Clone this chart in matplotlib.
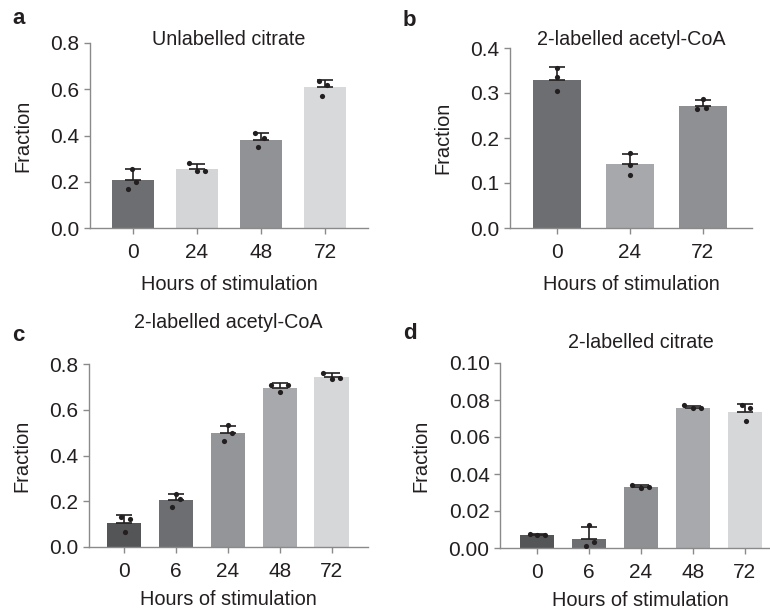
import matplotlib
matplotlib.use('Agg')
import matplotlib.pyplot as plt

plt.rcParams['font.family'] = ['Liberation Sans', 'DejaVu Sans']

# panel a: unlabelled citrate
a_hours = ['0', '24', '48', '72']
a_means = [0.207, 0.255, 0.380, 0.608]
a_sd = [0.046, 0.021, 0.032, 0.031]
a_points = [[0.257, 0.200, 0.168], [0.279, 0.247, 0.247],
            [0.409, 0.388, 0.349], [0.634, 0.619, 0.571]]

# panel b: 2-labelled acetyl-CoA
b_hours = ['0', '24', '72']
b_means = [0.330, 0.1415, 0.272]
b_sd = [0.028, 0.024, 0.013]
b_points = [[0.356, 0.336, 0.304], [0.167, 0.139, 0.1185],
            [0.287, 0.264, 0.267]]

# panel c: 2-labelled acetyl-CoA
c_hours = ['0', '6', '24', '48', '72']
c_means = [0.105, 0.205, 0.497, 0.697, 0.742]
c_sd = [0.036, 0.026, 0.034, 0.020, 0.019]
c_points = [[0.132, 0.122, 0.067], [0.231, 0.209, 0.176],
            [0.533, 0.499, 0.463], [0.710, 0.707, 0.678],
            [0.761, 0.735, 0.739]]

# panel d: 2-labelled citrate
d_hours = ['0', '6', '24', '48', '72']
d_means = [0.0068, 0.0051, 0.0330, 0.0757, 0.0737]
d_sd = [0.0008, 0.0064, 0.0010, 0.0013, 0.0043]
d_points = [[0.0076, 0.0070, 0.0070], [0.0124, 0.0031, 0.0009],
            [0.0340, 0.0326, 0.0328], [0.0775, 0.0755, 0.0755],
            [0.0773, 0.0755, 0.0688]]

W, H = 770, 612
fig = plt.figure(figsize=(W / 100, H / 100), dpi=100)

SPINE = '#8a8a8a'
TEXT = '#231f20'


def px_axes(left, top, right, bottom):
    # axes from pixel box
    return fig.add_axes([left / W, 1 - bottom / H, (right - left) / W, (bottom - top) / H])


def bar_panel(ax, hours, means, sd, points, colors, jitter, ylim, yticks, ytl, xlim,
              title, title_y, xpad=9):
    x = list(range(len(hours)))
    ax.bar(x, means, width=0.66, color=colors, zorder=1)
    ax.errorbar(x, means, yerr=[[0] * len(sd), sd], fmt='none', ecolor=TEXT,
                elinewidth=1.2, capsize=6, capthick=1.2, zorder=2)
    for i, pts in enumerate(points):
        xs = [i + j for j in jitter[i]]
        ax.scatter(xs, pts, s=14, color=TEXT, zorder=3, linewidths=0)
    ax.set_xlim(*xlim)
    ax.set_ylim(*ylim)
    ax.set_xticks(x)
    ax.set_xticklabels(hours)
    ax.set_yticks(yticks)
    ax.set_yticklabels(ytl)
    for s in ['top', 'right']:
        ax.spines[s].set_visible(False)
    for s in ['left', 'bottom']:
        ax.spines[s].set_color(SPINE)
        ax.spines[s].set_linewidth(1.0)
    ax.tick_params(colors=SPINE, labelcolor=TEXT, labelsize=15, length=4, width=1.0,
                   direction='out')
    ax.tick_params(axis='x', pad=7)
    ax.set_xlabel('Hours of stimulation', fontsize=14.4, color=TEXT, labelpad=xpad)
    ax.set_ylabel('Fraction', fontsize=14.4, color=TEXT, labelpad=13)
    ax.text(0.5, title_y, title, transform=ax.transAxes, ha='center', va='center',
            fontsize=14.2, color=TEXT)


ax_a = px_axes(90, 43, 368, 228)
bar_panel(ax_a, a_hours, a_means, a_sd, a_points,
          ['#6d6e71', '#d4d5d7', '#909295', '#d8d9db'],
          [[-0.02, 0.05, -0.08], [-0.13, 0.0, 0.13], [-0.09, 0.04, -0.04], [-0.1, 0.03, -0.05]],
          (0, 0.8), [0, 0.2, 0.4, 0.6, 0.8], ['0.0', '0.2', '0.4', '0.6', '0.8'],
          (-0.67, 3.67), 'Unlabelled citrate', 1.02)

ax_b = px_axes(510, 48, 752, 228)
bar_panel(ax_b, b_hours, b_means, b_sd, b_points,
          ['#6d6e71', '#a6a8ab', '#8e9093'],
          [[0.0, 0.0, 0.0], [0.0, 0.0, 0.0], [0.0, -0.07, 0.05]],
          (0, 0.4), [0, 0.1, 0.2, 0.3, 0.4], ['0.0', '0.1', '0.2', '0.3', '0.4'],
          (-0.65, 2.68), '2-labelled acetyl-CoA', 1.045)

ax_c = px_axes(89, 364, 368, 547)
bar_panel(ax_c, c_hours, c_means, c_sd, c_points,
          ['#545557', '#6d6e71', '#939598', '#a7a9ac', '#d6d7d9'],
          [[-0.05, 0.12, 0.02], [0.0, 0.08, -0.08], [0.0, 0.08, -0.08],
           [-0.16, 0.16, 0.01], [-0.17, 0.0, 0.16]],
          (0, 0.8), [0, 0.2, 0.4, 0.6, 0.8], ['0.0', '0.2', '0.4', '0.6', '0.8'],
          (-0.67, 4.7), '2-labelled acetyl-CoA', 1.225, xpad=6)

ax_d = px_axes(500, 363, 781, 548)
bar_panel(ax_d, d_hours, d_means, d_sd, d_points,
          ['#545557', '#6d6e71', '#8e9093', '#a7a9ac', '#d6d7d9'],
          [[-0.14, 0.0, 0.16], [0.0, 0.1, -0.06], [-0.16, 0.0, 0.16],
           [-0.16, 0.0, 0.16], [-0.06, 0.1, 0.02]],
          (0, 0.10), [0, 0.02, 0.04, 0.06, 0.08, 0.10],
          ['0.00', '0.02', '0.04', '0.06', '0.08', '0.10'],
          (-0.71, 4.7), '2-labelled citrate', 1.11, xpad=6)

# panel letters
for letter, (lx, ly) in zip('abcd', [(12, 18), (403, 21), (12, 335), (403, 334)]):
    fig.text(lx / W, 1 - ly / H, letter, fontsize=16, fontweight='bold', color=TEXT,
             ha='left', va='center')

fig.savefig('out.png', dpi=100)
